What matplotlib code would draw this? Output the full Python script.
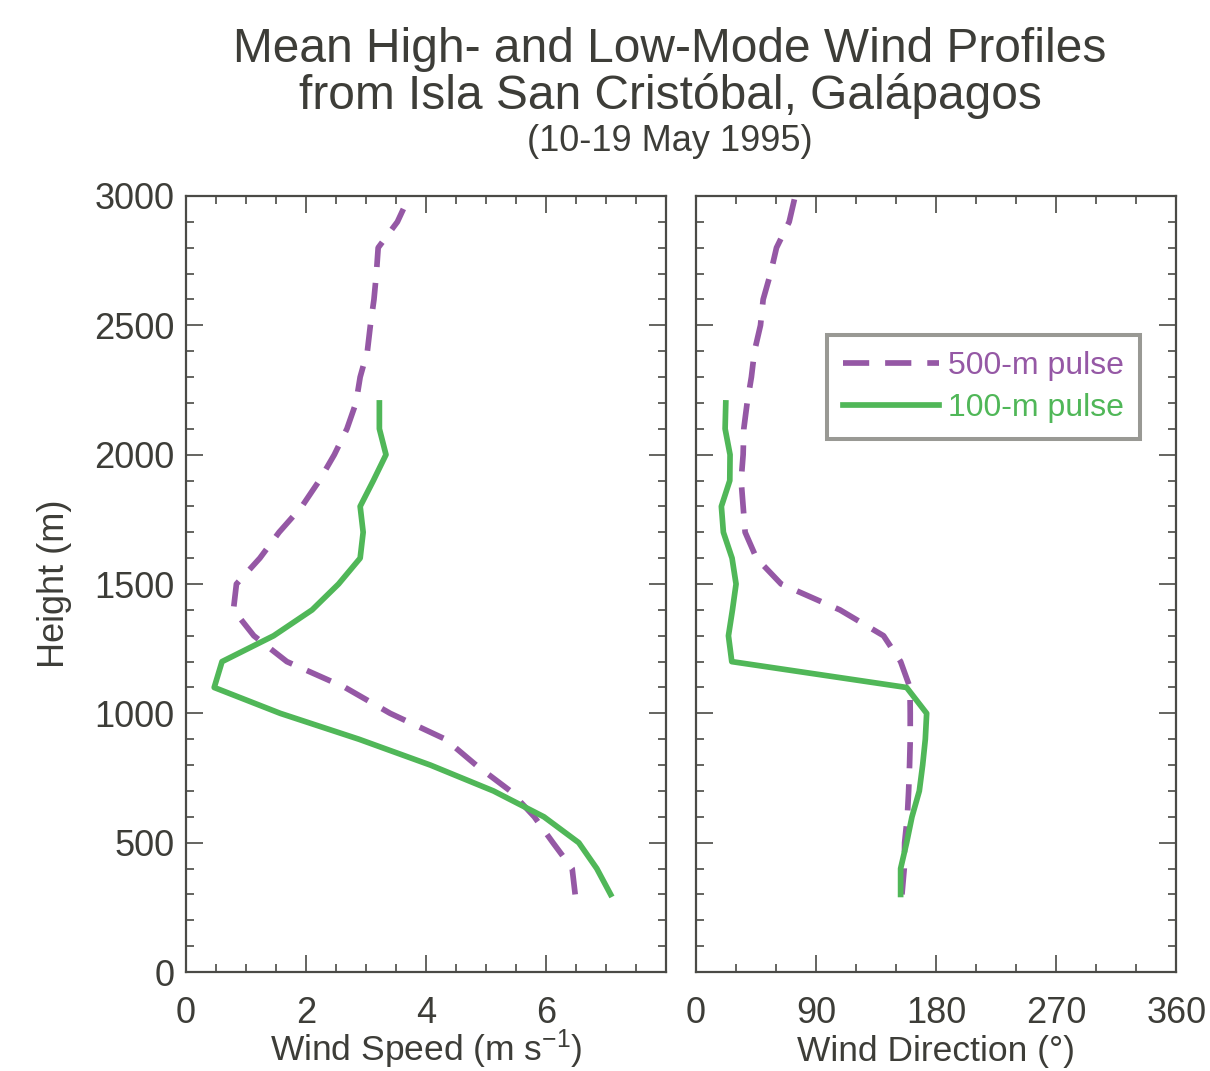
import numpy as np
import matplotlib
matplotlib.use("Agg")
import matplotlib.pyplot as plt
from matplotlib.ticker import MultipleLocator

plt.rcParams['font.family'] = ['Liberation Sans', 'DejaVu Sans']
plt.rcParams['mathtext.fontset'] = 'custom'
plt.rcParams['mathtext.rm'] = 'Liberation Sans'
plt.rcParams['mathtext.it'] = 'Liberation Sans'

# heights (m)
h_100 = [300, 400, 500, 600, 700, 800, 900, 1000, 1100, 1200, 1300, 1400,
         1500, 1600, 1700, 1800, 1900, 2000, 2100, 2200]
h_500_spd = [300, 400, 500, 600, 700, 800, 900, 1000, 1100, 1200, 1300, 1400,
             1500, 1600, 1700, 1800, 1900, 2000, 2100, 2200, 2300, 2400, 2500,
             2600, 2700, 2800, 2900, 2950]
h_500_dir = [300, 400, 500, 600, 700, 800, 900, 1000, 1100, 1200, 1300, 1400,
             1500, 1600, 1700, 1800, 1900, 2000, 2100, 2200, 2300, 2400, 2500,
             2600, 2700, 2800, 2900, 3000]

# wind speed (m/s)
spd_100 = [7.07, 6.84, 6.54, 5.96, 5.12, 4.07, 2.88, 1.57, 0.47, 0.60, 1.46,
           2.10, 2.54, 2.90, 2.95, 2.90, 3.12, 3.33, 3.22, 3.22]
spd_500 = [6.48, 6.43, 6.11, 5.80, 5.40, 4.83, 4.32, 3.40, 2.65, 1.68, 1.13,
           0.79, 0.84, 1.23, 1.55, 1.93, 2.22, 2.47, 2.68, 2.83, 2.90, 3.02,
           3.07, 3.13, 3.17, 3.20, 3.52, 3.62]

# wind direction (deg)
dir_100 = [153.5, 153.5, 158, 162, 167.5, 170, 172, 173, 158, 27, 24.5, 27.5,
           30.2, 27.2, 20.7, 19.2, 25.5, 25.7, 22, 22.5]
dir_500 = [154.5, 156.2, 156.5, 158.5, 159.5, 160.2, 160.7, 160.7, 160.5,
           153.5, 140.7, 108, 64, 45.5, 37, 35.5, 34, 35.5, 36, 38.5, 41.7, 44,
           48.5, 50.5, 56, 60.5, 70, 74.5]

purple = '#9558a5'
green = '#50b758'
txt = '#3d3d38'
axc = '#4a4a46'

fig = plt.figure(figsize=(12.1, 10.71), dpi=100)
ax1 = fig.add_axes([0.1537, 0.0924, 0.3971, 0.7246])
ax2 = fig.add_axes([0.5750, 0.0924, 0.3971, 0.7246])

lw = 4.1
dash = (4.6, 2.8)
for ax in (ax1, ax2):
    for s in ax.spines.values():
        s.set_color(axc)
        s.set_linewidth(1.6)
    ax.tick_params(which='both', direction='in', top=True, right=True,
                   color=axc, width=1.2, labelcolor=txt, labelsize=26)
    ax.tick_params(which='major', length=12)
    ax.tick_params(which='minor', length=6)
    ax.tick_params(axis='x', pad=17)
    ax.tick_params(axis='y', pad=8)
    ax.set_ylim(0, 3000)
    ax.yaxis.set_major_locator(MultipleLocator(500))
    ax.yaxis.set_minor_locator(MultipleLocator(100))

ax1.plot(spd_500, h_500_spd, color=purple, lw=lw, dashes=dash,
         dash_capstyle='butt', label='500-m pulse')
ax1.plot(spd_100, h_100, color=green, lw=lw, label='100-m pulse')
ax1.set_xlim(0, 8)
ax1.xaxis.set_major_locator(MultipleLocator(2))
ax1.xaxis.set_minor_locator(MultipleLocator(0.5))
ax1.set_xticks([0, 2, 4, 6])
ax1.set_xlabel('Wind Speed (m s$^{\\mathrm{-1}}$)', fontsize=25.5, color=txt)
ax1.xaxis.set_label_coords(0.5, -0.1147)
ax1.xaxis.label.set_va('baseline')
ax1.set_ylabel('Height (m)', fontsize=26, color=txt, labelpad=16)

ax2.plot(dir_500, h_500_dir, color=purple, lw=lw, dashes=dash,
         dash_capstyle='butt', label='500-m pulse')
ax2.plot(dir_100, h_100, color=green, lw=lw, label='100-m pulse')
ax2.set_xlim(0, 360)
ax2.xaxis.set_major_locator(MultipleLocator(90))
ax2.xaxis.set_minor_locator(MultipleLocator(30))
ax2.set_yticklabels([])
ax2.set_xlabel('Wind Direction (°)', fontsize=25.5, color=txt)
ax2.xaxis.set_label_coords(0.5, -0.1147)
ax2.xaxis.label.set_va('baseline')

leg = ax2.legend(loc='upper left', bbox_to_anchor=(0.2727, 0.8209),
                 fontsize=23, handlelength=3.0, handletextpad=0.3,
                 labelspacing=0.38, borderpad=0.5, borderaxespad=0,
                 fancybox=False, framealpha=1, labelcolor='linecolor')
leg.get_frame().set_edgecolor('#999994')
leg.get_frame().set_linewidth(2.9)

cx = 670 / 1210
fig.text(cx, 0.9424, 'Mean High- and Low-Mode Wind Profiles', ha='center',
         va='baseline', fontsize=34.5, color=txt)
fig.text(cx, 0.8982, 'from Isla San Cristóbal, Galápagos', ha='center',
         va='baseline', fontsize=34.5, color=txt)
fig.text(cx, 0.8593, '(10-19 May 1995)', ha='center', va='baseline',
         fontsize=26, color=txt)

fig.savefig('out.png', dpi=100)
